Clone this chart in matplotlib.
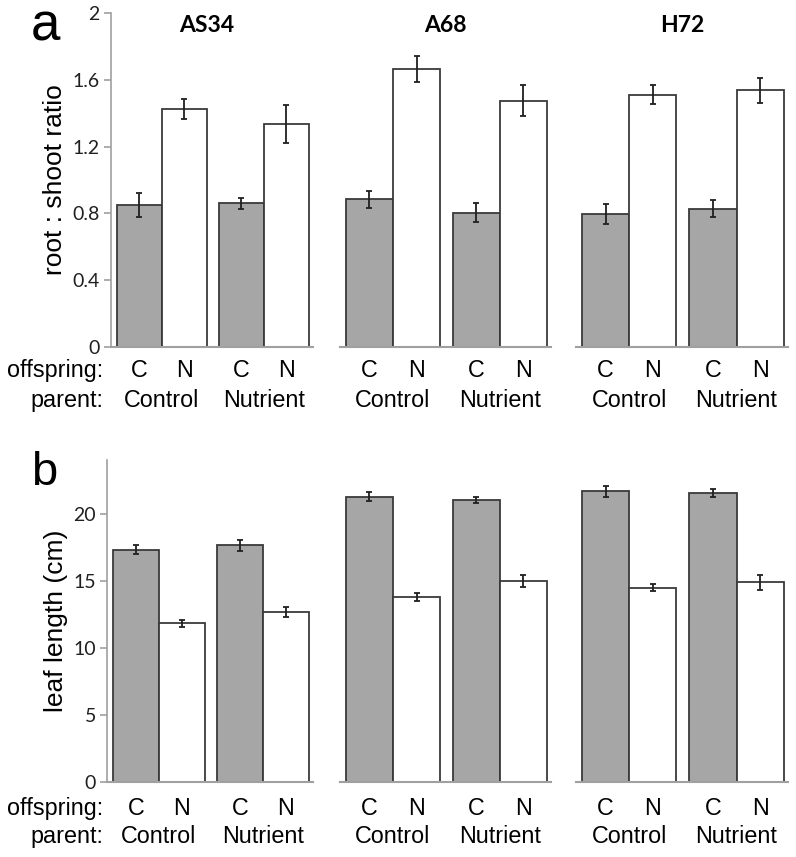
import matplotlib
matplotlib.use("Agg")
import matplotlib.pyplot as plt

# ---------------- data ----------------
genotypes = ["AS34", "A68", "H72"]
offspring_labels = ["C", "N", "C", "N"]
parent_labels = ["Control", "Nutrient"]

# order: (parent Control: C, N), (parent Nutrient: C, N)
ratio_AS34 = [0.85, 1.425, 0.86, 1.335]
ratio_A68 = [0.884, 1.665, 0.804, 1.475]
ratio_H72 = [0.795, 1.511, 0.828, 1.537]
ratio_err_AS34 = [0.07, 0.062, 0.035, 0.115]
ratio_err_A68 = [0.053, 0.08, 0.056, 0.094]
ratio_err_H72 = [0.06, 0.056, 0.05, 0.075]

leaf_AS34 = [17.31, 11.82, 17.64, 12.67]
leaf_A68 = [21.26, 13.79, 21.01, 14.98]
leaf_H72 = [21.66, 14.48, 21.54, 14.88]
leaf_err_AS34 = [0.35, 0.25, 0.42, 0.35]
leaf_err_A68 = [0.35, 0.32, 0.25, 0.47]
leaf_err_H72 = [0.40, 0.25, 0.32, 0.57]

ratio_ticks = [0, 0.4, 0.8, 1.2, 1.6, 2]
ratio_ticklabels = ["0", "0.4", "0.8", "1.2", "1.6", "2"]
leaf_ticks = [0, 5, 10, 15, 20]
leaf_ticklabels = ["0", "5", "10", "15", "20"]

# ---------------- layout ----------------
W, H = 796, 857
fig = plt.figure(figsize=(W / 100, H / 100), dpi=100)

def ax_px(x0, x1, ytop, ybot):
    return fig.add_axes([x0 / W, 1 - ybot / H, (x1 - x0) / W, (ybot - ytop) / H])

def ftext(x, y, s, **kw):
    fig.text(x / W, 1 - y / H, s, **kw)

positions = [0, 1, 2.27, 3.27]
colors = ["#a6a6a6", "white", "#a6a6a6", "white"]
XLIM = (-0.627, 3.86)
EDGE = "#3a3a3a"
SPINE = "#a0a0a0"
tick_font = dict(family="Lato", size=14, color="#202020")
lab_font = dict(family="Liberation Sans", size=16.8, color="black")

x_ranges_a = [(111, 313), (340, 551), (576, 788)]
x_ranges_b = [(107, 313), (340, 551), (576, 788)]

def draw_panel(xranges, ytop, ybot, means, errs, ymax, ticks, ticklabels, ylabel):
    axes = []
    for i, ((x0, x1), m, e) in enumerate(zip(xranges, means, errs)):
        ax = ax_px(x0, x1, ytop, ybot)
        ax.bar(positions, m, width=1.0, color=colors, edgecolor=EDGE,
               linewidth=1.3, zorder=2)
        ax.errorbar(positions, m, yerr=e, fmt="none", ecolor="#202020",
                    elinewidth=1.3, capsize=2.3, capthick=1.3, zorder=3)
        ax.set_xlim(*XLIM)
        ax.set_ylim(0, ymax)
        ax.set_facecolor("none")
        for s in ["top", "right"]:
            ax.spines[s].set_visible(False)
        ax.spines["bottom"].set_color(SPINE)
        ax.spines["bottom"].set_linewidth(1.5)
        ax.set_xticks([])
        if i == 0:
            ax.spines["left"].set_color(SPINE)
            ax.spines["left"].set_linewidth(1.2)
            ax.set_yticks(ticks)
            ax.set_yticklabels(ticklabels, fontdict=tick_font)
            ax.tick_params(axis="y", direction="out", length=5, width=1.2,
                           color=SPINE, pad=3)
            ax.set_ylabel(ylabel, family="Liberation Sans", size=19, labelpad=4)
        else:
            ax.spines["left"].set_visible(False)
            ax.set_yticks([])
        axes.append(ax)
    return axes

axes_a = draw_panel(x_ranges_a, 13, 347,
                    [ratio_AS34, ratio_A68, ratio_H72],
                    [ratio_err_AS34, ratio_err_A68, ratio_err_H72],
                    2, ratio_ticks, ratio_ticklabels, "root : shoot ratio")
axes_b = draw_panel(x_ranges_b, 460, 781.7,
                    [leaf_AS34, leaf_A68, leaf_H72],
                    [leaf_err_AS34, leaf_err_A68, leaf_err_H72],
                    24, leaf_ticks, leaf_ticklabels, "leaf length (cm)")

# titles (baseline at y≈32 px)
title_x = [207, 445.5, 682.5]
for g, tx in zip(genotypes, title_x):
    ftext(tx, 32, g, ha="center", va="baseline",
          family="Lato", weight="bold", size=16.5)

# category labels below axes
def cat_labels(axes, y_off, y_par):
    for ax in axes:
        for p, lab in zip(positions, offspring_labels):
            ax.annotate(lab, xy=(p, 0), xycoords=("data", "axes fraction"),
                        xytext=(0, -y_off), textcoords="offset pixels",
                        ha="center", va="center", **lab_font)
        for k, plab in enumerate(parent_labels):
            c = 0.5 * (positions[2 * k] + positions[2 * k + 1])
            ax.annotate(plab, xy=(c, 0), xycoords=("data", "axes fraction"),
                        xytext=(0, -y_par), textcoords="offset pixels",
                        ha="center", va="center", **lab_font)

cat_labels(axes_a, 23, 53)
cat_labels(axes_b, 27, 55)

ftext(103, 370, "offspring:", ha="right", va="center", **lab_font)
ftext(103, 400, "parent:", ha="right", va="center", **lab_font)
ftext(103, 808.5, "offspring:", ha="right", va="center", **lab_font)
ftext(103, 836.5, "parent:", ha="right", va="center", **lab_font)

# panel letters
ftext(31, 40.5, "a", ha="left", va="baseline", family="Liberation Sans", size=38)
ftext(31, 485, "b", ha="left", va="baseline", family="Liberation Sans", size=34)

fig.savefig("out.png", dpi=100)
